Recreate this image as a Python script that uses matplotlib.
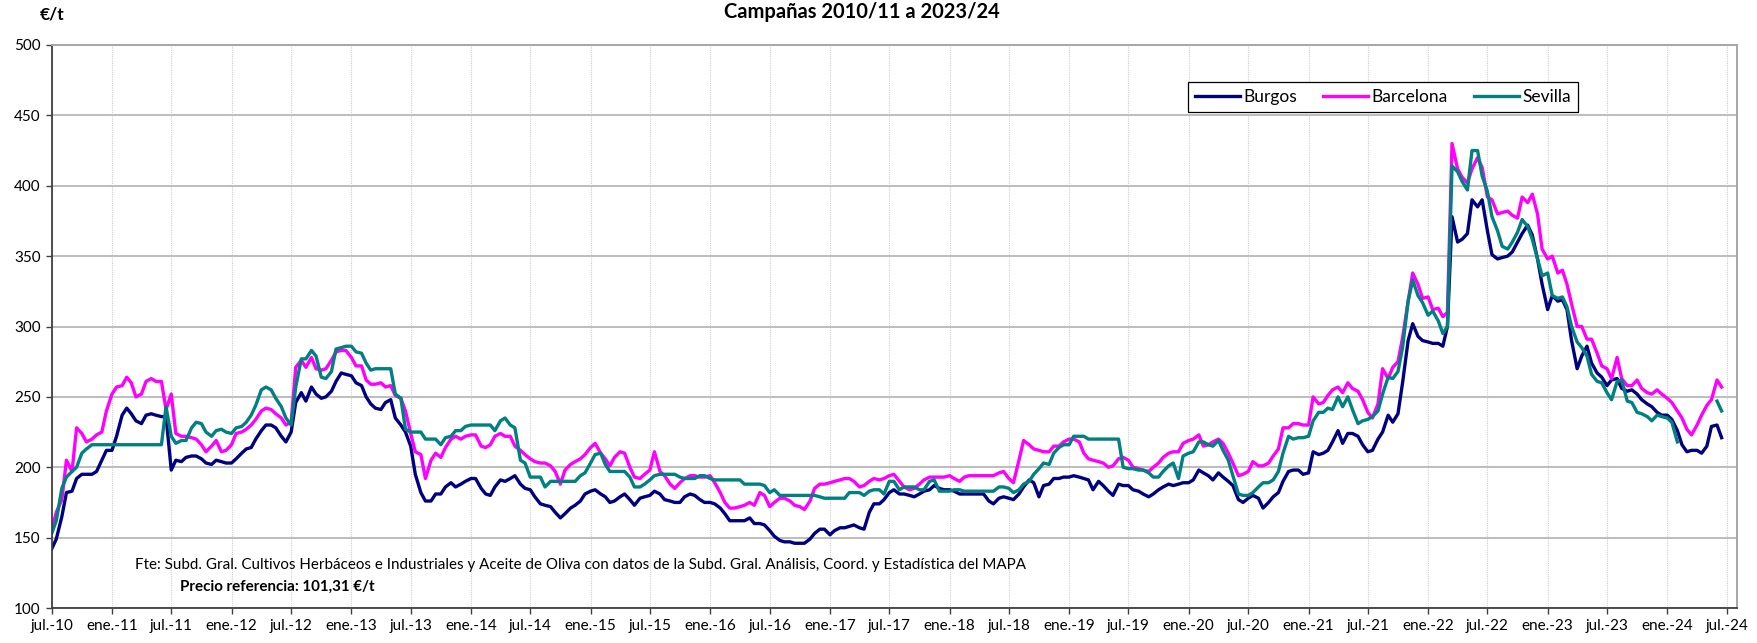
import numpy as np
import pandas as pd
import matplotlib
matplotlib.use("Agg")
import matplotlib.pyplot as plt
import matplotlib.dates as mdates
from matplotlib.ticker import FuncFormatter, MultipleLocator

nan = np.nan

# Precios semi-mensuales (€/t), una fila por campaña (jul -> jun)
burgos = [
    142, 149, 165, 182, 183, 192, 195, 195, 195, 197, 205, 212, 212, 222, 237, 242, 238, 233, 231, 237, 238, 237, 236, 236,
    198, 205, 204, 207, 208, 208, 206, 203, 202, 205, 204, 203, 203, 206, 210, 213, 214, 220, 226, 230, 230, 228, 222, 218,
    225, 246, 253, 247, 257, 252, 249, 250, 254, 261, 267, 266, 265, 260, 258, 250, 245, 242, 241, 246, 248, 235, 230, 225,
    215, 195, 182, 176, 176, 181, 181, 186, 189, 186, 188, 190, 192, 192, 185, 181, 180, 186, 191, 190, 192, 194, 188, 185,
    184, 179, 174, 173, 172, 168, 164, 167, 171, 173, 176, 181, 183, 184, 181, 179, 175, 176, 179, 181, 177, 173, 178, 179,
    180, 183, 181, 177, 176, 175, 175, 179, 181, 180, 177, 175, 175, 174, 171, 167, 162, 162, 162, 162, 164, 160, 160, 159,
    155, 151, 148, 147, 147, 146, 146, 146, 149, 153, 156, 156, 152, 155, 157, 157, 158, 159, 157, 156, 168, 174, 174, 177,
    182, 184, 181, 181, 180, 179, 181, 183, 184, 187, 185, 184, 184, 183, 181, 181, 181, 181, 181, 181, 176, 174, 178, 179,
    178, 177, 181, 186, 191, 189, 179, 187, 188, 192, 192, 193, 193, 194, 193, 192, 191, 184, 190, 187, 183, 180, 188, 187,
    187, 184, 183, 181, 179, 181, 184, 186, 188, 187, 188, 189, 189, 191, 198, 196, 194, 191, 196, 193, 190, 187, 177, 175,
    178, 180, 178, 171, 175, 179, 182, 190, 197, 198, 198, 195, 196, 211, 209, 210, 212, 218, 226, 217, 224, 224, 222, 216,
    211, 212, 220, 225, 237, 232, 238, 260, 290, 302, 293, 290, 289, 288, 288, 286, 300, 378, 360, 362, 366, 390, 385, 390,
    368, 351, 348, 349, 350, 353, 360, 366, 372, 365, 348, 330, 312, 322, 318, 319, 312, 290, 270, 279, 286, 274, 267, 264,
    258, 262, 263, 256, 254, 255, 252, 248, 245, 243, 239, 237, 237, 234, 226, 216, 211, 212, 212, 210, 215, 229, 230, 221,
]

barcelona = [
    155, 168, 177, 205, 197, 228, 224, 218, 220, 223, 225, 240, 252, 257, 258, 264, 260, 250, 252, 261, 263, 261, 261, 241,
    252, 224, 222, 222, 221, 220, 216, 211, 215, 219, 211, 212, 216, 224, 225, 227, 230, 234, 240, 242, 241, 238, 235, 230,
    232, 271, 276, 271, 278, 270, 269, 270, 276, 282, 283, 283, 278, 272, 272, 262, 259, 259, 260, 257, 258, 251, 249, 240,
    224, 211, 209, 192, 205, 210, 207, 214, 220, 222, 220, 222, 223, 223, 215, 214, 216, 222, 224, 222, 222, 215, 212, 209,
    206, 204, 203, 203, 201, 197, 188, 198, 202, 204, 206, 209, 214, 217, 210, 206, 201, 207, 211, 210, 200, 193, 192, 195,
    198, 211, 197, 194, 188, 185, 189, 192, 194, 194, 193, 193, 194, 189, 182, 175, 171, 171, 172, 173, 175, 173, 182, 180,
    172, 175, 178, 178, 176, 173, 172, 170, 176, 185, 188, 188, 189, 190, 191, 192, 192, 190, 186, 187, 190, 192, 191, 192,
    194, 195, 190, 186, 184, 185, 188, 191, 193, 193, 193, 193, 194, 192, 190, 193, 194, 194, 194, 194, 194, 194, 196, 197,
    192, 189, 205, 219, 216, 213, 212, 211, 211, 215, 215, 218, 220, 220, 218, 210, 206, 205, 204, 203, 200, 201, 206, 207,
    205, 200, 199, 198, 197, 200, 203, 207, 210, 211, 211, 217, 219, 220, 223, 215, 216, 218, 220, 217, 210, 203, 194, 195,
    197, 204, 201, 201, 203, 208, 213, 228, 228, 231, 231, 230, 230, 250, 245, 246, 251, 255, 257, 253, 260, 256, 254, 248,
    239, 235, 245, 270, 263, 271, 275, 292, 318, 338, 330, 320, 321, 312, 313, 307, 310, 430, 412, 406, 402, 412, 420, 413,
    392, 390, 380, 381, 382, 379, 377, 392, 388, 394, 380, 355, 348, 350, 338, 340, 330, 316, 300, 300, 291, 291, 281, 272,
    270, 263, 278, 263, 258, 258, 262, 256, 253, 252, 255, 252, 249, 246, 240, 235, 227, 223, 230, 237, 244, 248, 262, 257,
]

sevilla = [
    153, 162, 185, 193, 197, 200, 210, 213, 216, 216, 216, 216, 216, 216, 216, 216, 216, 216, 216, 216, 216, 216, 216, 243,
    222, 217, 219, 219, 228, 232, 231, 225, 222, 226, 227, 225, 224, 228, 229, 232, 237, 244, 255, 257, 255, 249, 243, 235,
    230, 257, 277, 277, 283, 279, 264, 263, 268, 284, 285, 286, 286, 282, 281, 274, 269, 270, 270, 270, 270, 252, 249, 227,
    225, 225, 225, 220, 220, 220, 216, 221, 222, 226, 226, 229, 230, 230, 230, 230, 230, 226, 233, 235, 230, 228, 205, 203,
    193, 193, 193, 186, 190, 190, 190, 190, 190, 190, 194, 196, 203, 209, 210, 202, 197, 197, 197, 197, 193, 186, 186, 188,
    191, 194, 195, 195, 195, 195, 193, 192, 192, 192, 194, 194, 192, 191, 191, 191, 191, 191, 191, 188, 188, 188, 188, 187,
    182, 184, 180, 180, 180, 180, 180, 180, 180, 180, 179, 178, 178, 178, 178, 178, 182, 182, 182, 180, 183, 184, 184, 181,
    190, 190, 184, 186, 186, 186, 184, 184, 190, 191, 183, 183, 183, 184, 184, 183, 183, 183, 183, 183, 183, 183, 186, 186,
    185, 182, 184, 188, 190, 195, 199, 203, 202, 210, 214, 216, 216, 222, 222, 222, 220, 220, 220, 220, 220, 220, 220, 200,
    199, 199, 198, 198, 196, 193, 193, 197, 201, 203, 192, 208, 210, 211, 218, 218, 216, 215, 219, 212, 205, 194, 181, 180,
    180, 182, 186, 189, 189, 191, 197, 210, 222, 220, 221, 221, 222, 233, 239, 239, 242, 241, 250, 243, 250, 241, 231, 233,
    234, 236, 240, 252, 264, 263, 268, 285, 318, 333, 322, 317, 308, 311, 304, 295, 300, 414, 410, 403, 397, 425, 425, 407,
    396, 378, 368, 357, 355, 360, 367, 376, 371, 362, 348, 336, 338, 322, 320, 321, 314, 300, 289, 285, 279, 266, 261, 260,
    253, 248, 261, 262, 247, 246, 239, 238, 236, 233, 237, 236, 235, 232, 218, nan, nan, nan, nan, nan, nan, nan, 247, 240,
]

fechas = pd.date_range("2010-07-01", periods=len(burgos), freq="SMS")

series = [
    ("Burgos", burgos, "#000080"),
    ("Barcelona", barcelona, "#FF00FF"),
    ("Sevilla", sevilla, "#008080"),
]

MESES = {1: "ene.", 7: "jul."}
FONT = "Lato"
W, H = 1757, 643

fig = plt.figure(figsize=(W / 100, H / 100), dpi=100)
ax = fig.add_axes([51.7 / W, 35 / H, (1737 - 51.7) / W, 563 / H])

for nombre, valores, color in series:
    ax.plot(fechas, valores, color=color, lw=2.4, label=nombre, solid_joinstyle="round")

ax.set_xlim(pd.Timestamp("2010-07-01"), pd.Timestamp("2024-08-01"))
ax.set_ylim(100, 500)
ax.yaxis.set_major_locator(MultipleLocator(50))
ax.xaxis.set_major_locator(mdates.MonthLocator(bymonth=[1, 7]))


def fmt_fecha(x, pos):
    d = mdates.num2date(x)
    return f"{MESES.get(d.month, '')}-{d.year % 100:02d}"


ax.xaxis.set_major_formatter(FuncFormatter(fmt_fecha))

ax.grid(axis="y", color="#bdbdbd", lw=1.4)
ax.grid(axis="x", color="#cfcfcf", lw=0.8, ls=(0, (1, 1)))
ax.set_axisbelow(True)

for s in ("top", "right"):
    ax.spines[s].set_color("#a6a6a6")
    ax.spines[s].set_linewidth(1.4)
for s in ("left", "bottom"):
    ax.spines[s].set_color("#404040")
    ax.spines[s].set_linewidth(1.3)

ax.tick_params(axis="both", direction="out", length=4, width=1, color="#404040",
               labelsize=11, pad=4)
for lab in ax.get_xticklabels() + ax.get_yticklabels():
    lab.set_fontfamily(FONT)

leg = ax.legend(loc="center", bbox_to_anchor=(0.79, 0.908), ncol=3, frameon=True,
                fancybox=False, edgecolor="black", framealpha=1,
                prop={"family": FONT, "size": 12.5}, handlelength=2.6,
                handletextpad=0.2, columnspacing=1.5, borderpad=0.4)
leg.get_frame().set_linewidth(0.9)

fig.text(862 / W, 1 - 12 / H, "Campañas 2010/11 a 2023/24", ha="center", va="center",
         fontsize=14.5, fontweight="bold", family=FONT)
fig.text(40 / W, 1 - 15 / H, "€/t", ha="left", va="center",
         fontsize=12.5, fontweight="bold", family=FONT)
fig.text(134.7 / W, 1 - 565 / H,
         "Fte: Subd. Gral. Cultivos Herbáceos e Industriales y Aceite de Oliva con datos "
         "de la Subd. Gral. Análisis, Coord. y Estadística del MAPA",
         ha="left", va="center", fontsize=10.9, family=FONT)
fig.text(180 / W, 1 - 587 / H, "Precio referencia: 101,31 €/t", ha="left", va="center",
         fontsize=10.9, fontweight="bold", family=FONT)

fig.savefig("out.png", dpi=100)
